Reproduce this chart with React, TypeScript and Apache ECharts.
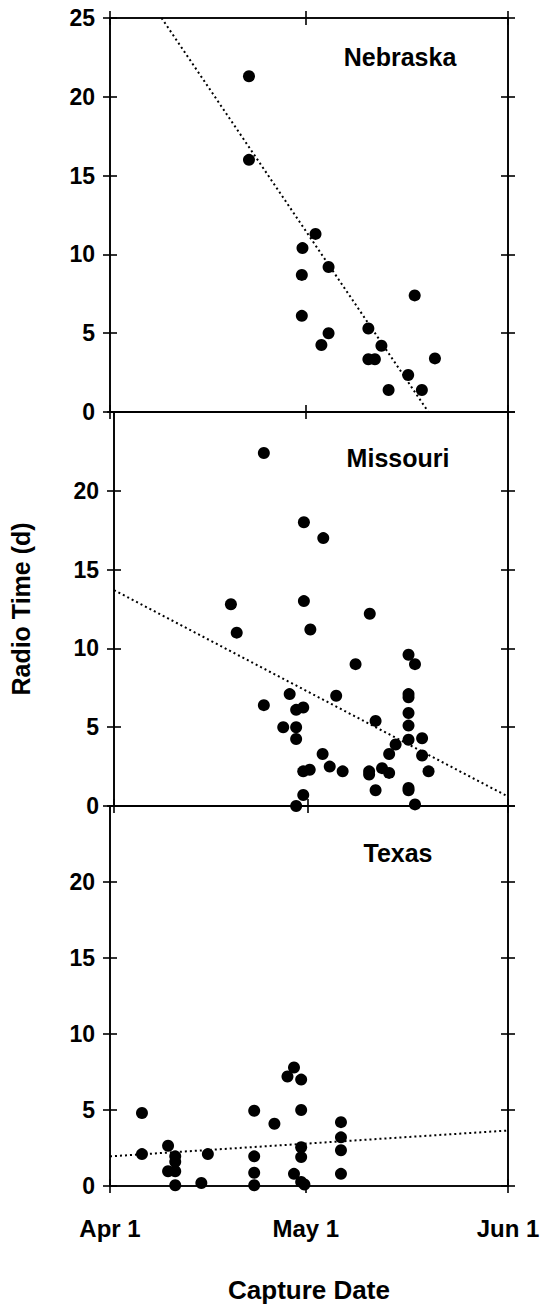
import React, { useEffect, useRef } from "react";
import * as echarts from "echarts";

// x = days after Apr 1, y = radio time (d)
const nebraska: number[][] = [
  [21.3, 21.3], [21.3, 16.0], [31.5, 11.3], [29.5, 10.4], [33.5, 9.2], [29.4, 8.7],
  [46.7, 7.4], [29.4, 6.1], [39.6, 5.3], [33.5, 5.0], [32.4, 4.25], [41.6, 4.2],
  [39.6, 3.35], [40.6, 3.35], [49.8, 3.4], [45.7, 2.35], [42.7, 1.4], [47.8, 1.4],
];
const missouri: number[][] = [
  [23.2, 22.4], [29.4, 18.0], [32.4, 17.0], [18.1, 12.8], [29.4, 13.0], [39.6, 12.2],
  [19.0, 11.0], [30.4, 11.2], [45.6, 9.6], [46.6, 9.0], [37.4, 9.0], [45.6, 7.1],
  [45.6, 6.9], [34.4, 7.0], [27.2, 7.1], [23.2, 6.4], [28.2, 6.1], [29.3, 6.25],
  [45.6, 5.9], [40.5, 5.4], [26.2, 5.0], [28.2, 5.0], [45.6, 5.1], [28.2, 4.25],
  [47.7, 4.3], [45.6, 4.2], [43.6, 3.9], [42.6, 3.3], [32.3, 3.3], [47.7, 3.2],
  [33.4, 2.5], [41.5, 2.4], [29.3, 2.2], [30.3, 2.3], [35.4, 2.2], [39.5, 2.2],
  [39.5, 2.0], [42.6, 2.1], [48.7, 2.2], [40.5, 1.0], [45.6, 1.15], [45.6, 1.0],
  [29.3, 0.7], [28.2, 0.0], [46.6, 0.1],
];
const texas: number[][] = [
  [28.2, 7.8], [27.2, 7.2], [29.3, 7.0], [4.9, 4.8], [22.1, 4.95], [29.3, 5.0],
  [25.2, 4.1], [35.4, 4.2], [35.4, 3.2], [8.9, 2.65], [29.3, 2.55], [35.4, 2.35],
  [4.9, 2.1], [15.0, 2.1], [10.0, 1.95], [22.1, 1.95], [29.3, 1.9], [10.0, 1.6],
  [8.9, 0.97], [10.0, 0.97], [22.1, 0.87], [28.2, 0.8], [35.4, 0.8], [10.0, 0.05],
  [14.0, 0.2], [22.1, 0.05], [29.3, 0.27], [29.8, 0.1],
];

const nebraskaFit: number[][] = [[7.9, 25], [48.8, 0]];
const missouriFit: number[][] = [[0, 13.7], [61, 0.6]];
const texasFit: number[][] = [[0, 1.95], [61, 3.65]];

const panelNames = ["Nebraska", "Missouri", "Texas"];
const xTickValues = [0, 30, 61];
const xTickLabels = ["Apr 1", "May 1", "Jun 1"];
const yTickValues = [0, 5, 10, 15, 20, 25];

const FONT = "'Liberation Sans', Arial, Helvetica, sans-serif";

export default function App() {
  const ref = useRef<HTMLDivElement>(null);
  useEffect(() => {
    if (!ref.current) return;
    const chart = echarts.init(ref.current, null, { renderer: "svg" });
    const grids = [
      { left: 110, right: 41, top: 18, height: 394 },
      { left: 110, right: 41, top: 412, height: 394 },
      { left: 110, right: 41, top: 806, height: 395 },
    ];
    const lineStyle = { color: "#000", width: 1.6 };
    const xAxis: any[] = [];
    const yAxis: any[] = [];
    const mainX: number[] = [];
    const mainY: number[] = [];
    grids.forEach((_, g) => {
      const baseX = {
        type: "value", gridIndex: g, min: 0, max: 61,
        axisLine: { show: true, onZero: false, lineStyle },
        splitLine: { show: false },
      };
      mainX.push(xAxis.length);
      xAxis.push({
        ...baseX, position: "bottom",
        axisTick: { show: true, customValues: xTickValues, length: 7, lineStyle },
        axisLabel: {
          show: g === 2, customValues: xTickValues, margin: 30,
          formatter: (v: number) => xTickLabels[xTickValues.indexOf(v)] ?? "",
          color: "#000", fontFamily: FONT, fontWeight: "bold", fontSize: 24,
        },
        ...(g === 2 ? {
          name: "Capture Date", nameLocation: "middle", nameGap: 91,
          nameTextStyle: { color: "#000", fontFamily: FONT, fontWeight: "bold", fontSize: 26 },
        } : {}),
      });
      xAxis.push({
        ...baseX, position: "bottom",
        axisTick: { show: true, inside: true, customValues: xTickValues, length: 7, lineStyle },
        axisLabel: { show: false },
      });
      xAxis.push({
        ...baseX, position: "top",
        axisTick: { show: g === 0, customValues: xTickValues, length: 7, lineStyle },
        axisLabel: { show: false },
      });
      xAxis.push({
        ...baseX, position: "top",
        axisTick: { show: g === 0, inside: true, customValues: xTickValues, length: 7, lineStyle },
        axisLabel: { show: false },
      });
      const baseY = {
        type: "value", gridIndex: g, min: 0, max: 25, interval: 5,
        axisLine: { show: true, onZero: false, lineStyle },
        splitLine: { show: false },
      };
      mainY.push(yAxis.length);
      yAxis.push({
        ...baseY, position: "left",
        axisTick: { show: true, length: 7, lineStyle },
        axisLabel: {
          show: true, margin: 15, color: "#000", fontFamily: FONT, fontWeight: "bold", fontSize: 23,
          customValues: g === 0 ? yTickValues : yTickValues.slice(0, 5),
          formatter: (v: number) => (g > 0 && v === 25 ? "" : String(v)),
        },
        ...(g === 1 ? {
          name: "Radio Time (d)", nameLocation: "middle", nameGap: 81,
          nameTextStyle: { color: "#000", fontFamily: FONT, fontWeight: "bold", fontSize: 25 },
        } : {}),
      });
      yAxis.push({
        ...baseY, position: "left",
        axisTick: { show: true, inside: true, length: 7, lineStyle },
        axisLabel: { show: false },
      });
      yAxis.push({
        ...baseY, position: "right",
        axisTick: { show: true, length: 7, lineStyle },
        axisLabel: { show: false },
      });
      yAxis.push({
        ...baseY, position: "right",
        axisTick: { show: true, inside: true, length: 7, lineStyle },
        axisLabel: { show: false },
      });
    });

    const pts = [nebraska, missouri, texas];
    const fits = [nebraskaFit, missouriFit, texasFit];
    const series: any[] = [];
    pts.forEach((d, g) => {
      series.push({
        type: "line", xAxisIndex: mainX[g], yAxisIndex: mainY[g], data: fits[g],
        showSymbol: false, symbol: "none", silent: true,
        lineStyle: { color: "#000", width: 2, type: [2, 3] },
        z: 2,
      });
      series.push({
        type: "scatter", xAxisIndex: mainX[g], yAxisIndex: mainY[g], data: d,
        symbol: "circle", symbolSize: 12, clip: false,
        itemStyle: { color: "#000", opacity: 1 }, z: 3,
      });
    });

    const textStyle = { fill: "#000", fontFamily: FONT, fontWeight: "bold", fontSize: 25 };
    const graphic = [
      { type: "text", x: 400, y: 57, style: { ...textStyle, text: panelNames[0], textAlign: "center", textVerticalAlign: "middle" } },
      { type: "text", x: 398, y: 458, style: { ...textStyle, text: panelNames[1], textAlign: "center", textVerticalAlign: "middle" } },
      { type: "text", x: 398, y: 853, style: { ...textStyle, text: panelNames[2], textAlign: "center", textVerticalAlign: "middle" } },
    ];

    chart.setOption({
      animation: false,
      backgroundColor: "#fff",
      grid: grids,
      xAxis,
      yAxis,
      series,
      graphic,
    });
    return () => chart.dispose();
  }, []);
  return (
    <div
      ref={ref}
      style={{ position: "absolute", left: 0, top: 0, width: 549, height: 1304, background: "#fff" }}
    />
  );
}
